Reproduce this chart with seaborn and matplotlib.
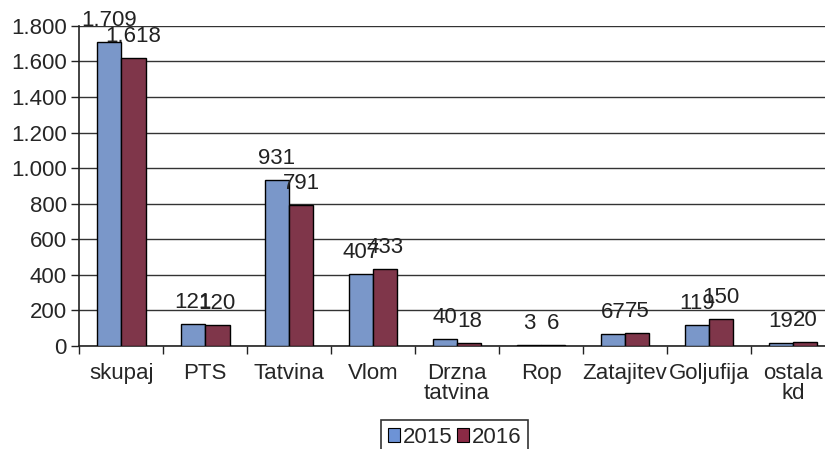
import numpy as np
import pandas as pd
import matplotlib
matplotlib.use('Agg')
import matplotlib.pyplot as plt
import seaborn as sns
from matplotlib.ticker import FuncFormatter, MultipleLocator

# Data
categories = ['skupaj', 'PTS', 'Tatvina', 'Vlom', 'Drzna\ntatvina', 'Rop',
              'Zatajitev', 'Goljufija', 'ostala\nkd']
values_2015 = [1709, 121, 931, 407, 40, 3, 67, 119, 19]
values_2016 = [1618, 120, 791, 433, 18, 6, 75, 150, 20]
years = ['2015', '2016']
colors = ['#6D93D6', '#8B2A45']

df = pd.DataFrame({
    'kategorija': categories * 2,
    'leto': [years[0]] * len(categories) + [years[1]] * len(categories),
    'stevilo': values_2015 + values_2016,
})

sns.set_style('white')
plt.rcParams['font.family'] = ['Liberation Sans', 'DejaVu Sans']
FS = 16

fig = plt.figure(figsize=(8.25, 4.49), dpi=100)
ax = fig.add_axes([0.096, 0.2294, 0.916, 0.713])

sns.barplot(data=df, x='kategorija', y='stevilo', hue='leto', order=categories,
            hue_order=years, palette=colors, width=0.58, gap=0,
            edgecolor='black', linewidth=1.0, ax=ax, zorder=3)


def thousands(v, pos=None):
    return f'{int(v):,}'.replace(',', '.')


# value labels above bars
for container in ax.containers:
    labels = [thousands(b.get_height()) for b in container]
    ax.bar_label(container, labels=labels, padding=8, fontsize=FS, color='#222222')

ax.set_ylim(0, 1800)
ax.set_xlim(-0.5, 8.5)
ax.yaxis.set_major_locator(MultipleLocator(200))
ax.yaxis.set_major_formatter(FuncFormatter(thousands))
ax.grid(axis='y', color='#333333', linewidth=1.0, zorder=0)
ax.set_axisbelow(True)

for side in ['top', 'right']:
    ax.spines[side].set_visible(False)
for side in ['left', 'bottom']:
    ax.spines[side].set_color('#222222')
    ax.spines[side].set_linewidth(1.2)

ax.tick_params(axis='y', which='major', direction='out', length=6, width=1.0,
               color='#222222', labelsize=FS, pad=3, left=True)
ax.set_xticks(np.arange(len(categories)))
ax.set_xticklabels(categories, fontsize=FS, linespacing=0.95)
ax.tick_params(axis='x', which='major', length=0, pad=12)
ax.set_xticks(np.arange(len(categories) + 1) - 0.5, minor=True)
ax.tick_params(axis='x', which='minor', direction='out', length=6, width=1.0,
               color='#222222', bottom=True)

ax.set_xlabel('')
ax.set_ylabel('')

ax.legend_.remove()
handles = [plt.Rectangle((0, 0), 1, 1, facecolor=c, edgecolor='black', linewidth=0.8)
           for c in colors]
leg = fig.legend(handles, years, loc='upper center', bbox_to_anchor=(0.551, 0.064),
                 ncol=2, frameon=True, fontsize=FS, handlelength=0.55,
                 handleheight=0.55, handletextpad=0.12, columnspacing=0.2,
                 borderpad=0.3, borderaxespad=0, fancybox=False)
leg.get_frame().set_edgecolor('black')
leg.get_frame().set_linewidth(1.2)

fig.savefig('out.png', dpi=100)
